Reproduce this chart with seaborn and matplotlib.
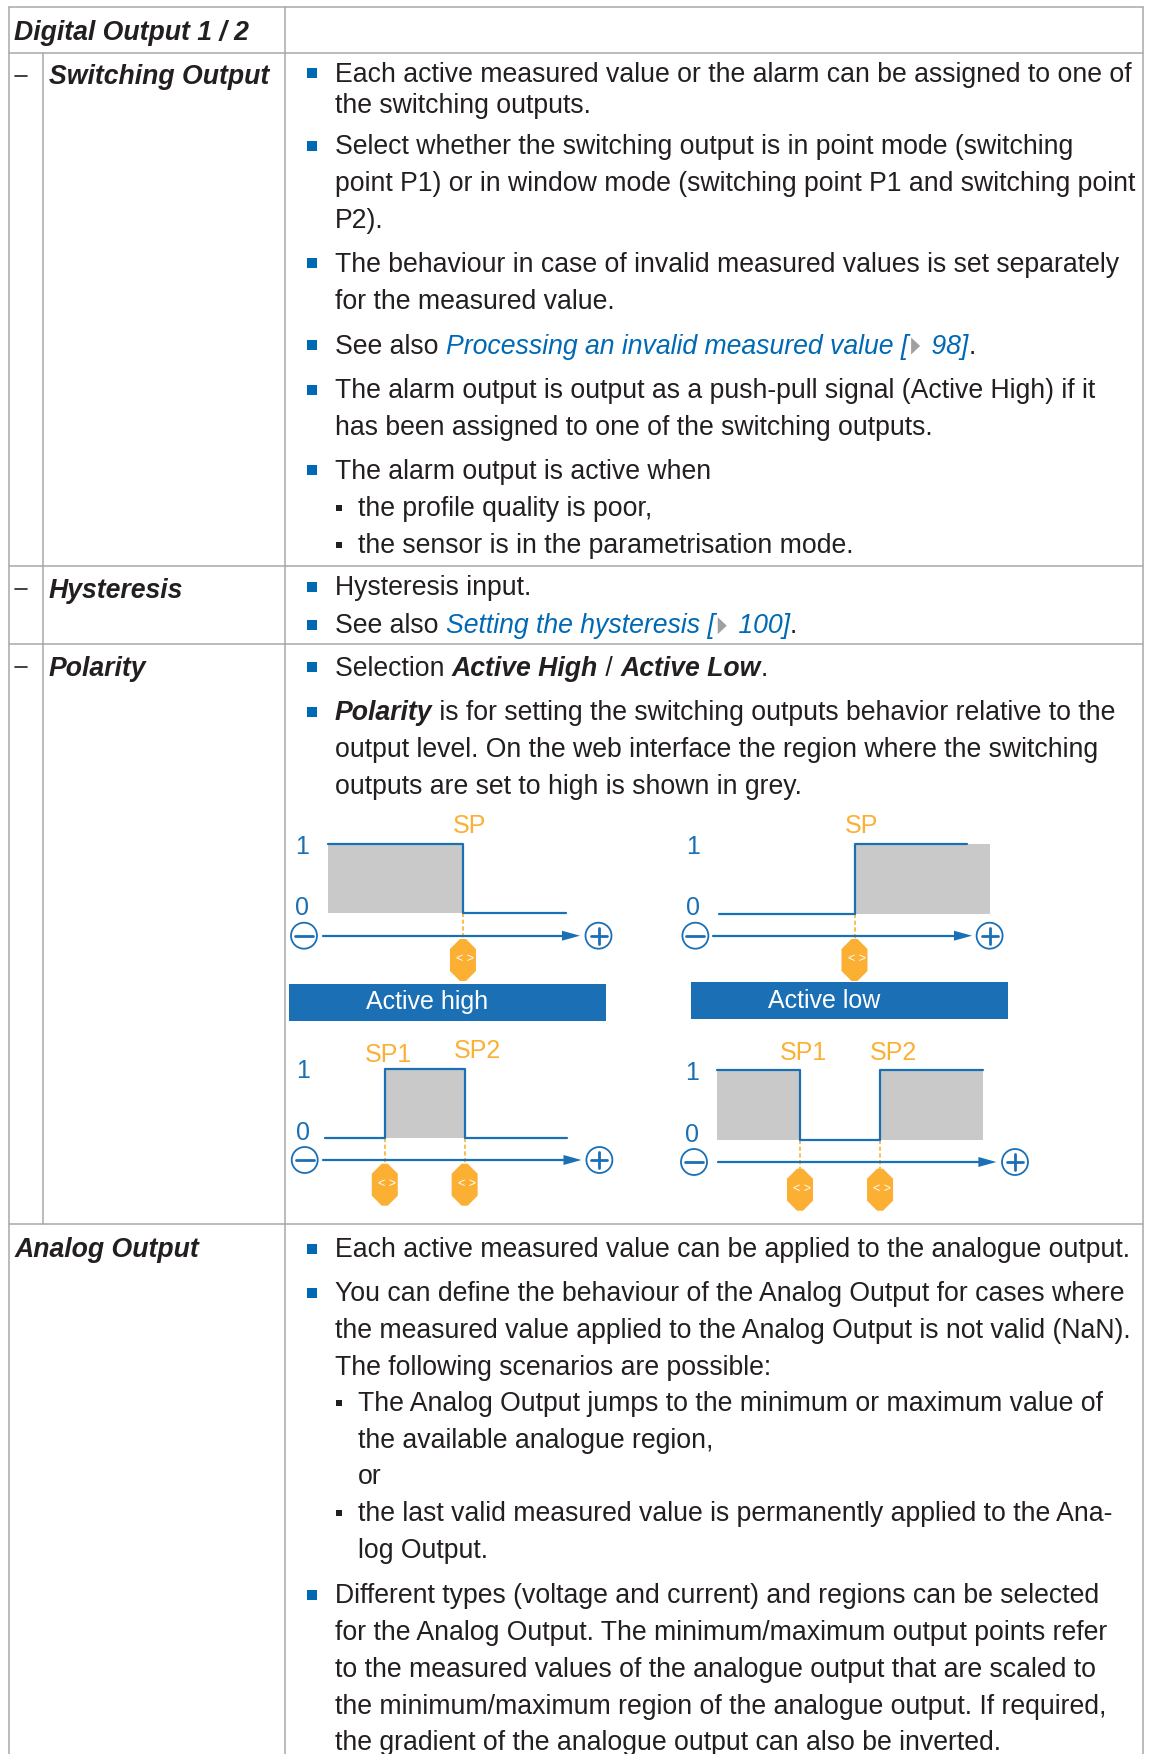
import matplotlib
matplotlib.use('Agg')
import matplotlib.pyplot as plt
from matplotlib.patches import Circle, Polygon, Rectangle
import seaborn as sns

sns.set_theme(style='white')
plt.rcParams['font.family'] = ['Liberation Sans', 'DejaVu Sans']

TXT = '#231f20'
LINK = '#0069b4'
BLUE = '#1a6fb5'
ORANGE = '#fbb034'
GREY = '#c9c9c9'
RULE = '#a8a8a8'
FS = 19.2

# row labels
row_labels = ['Digital Output 1 / 2', 'Switching Output', 'Hysteresis', 'Polarity', 'Analog Output']
row_label_x = [14.5, 49, 49, 49, 14.5]
row_label_y = [39.5, 84.5, 598, 675.5, 1257]
dash_y = [76, 589, 667]

# body text, one entry per printed line: (kind, runs)
# kind: b = first line of a bullet, c = continuation, s = sub bullet, t = sub continuation
switching_lines = [
    ('b', [('Each active measured value or the alarm can be assigned to one of', 'r')]),
    ('c', [('the switching outputs.', 'r')]),
    ('b', [('Select whether the switching output is in point mode (switching', 'r')]),
    ('c', [('point P1) or in window mode (switching point P1 and switching point', 'r')]),
    ('c', [('P2).', 'r')]),
    ('b', [('The behaviour in case of invalid measured values is set separately', 'r')]),
    ('c', [('for the measured value.', 'r')]),
    ('b', [('See also ', 'r'), ('Processing an invalid measured value [', 'l'), ('', 'tri'), (' 98]', 'l'), ('.', 'r')]),
    ('b', [('The alarm output is output as a push-pull signal (Active High) if it', 'r')]),
    ('c', [('has been assigned to one of the switching outputs.', 'r')]),
    ('b', [('The alarm output is active when', 'r')]),
    ('s', [('the profile quality is poor,', 'r')]),
    ('s', [('the sensor is in the parametrisation mode.', 'r')]),
    ('b', [('Hysteresis input.', 'r')]),
    ('b', [('See also ', 'r'), ('Setting the hysteresis [', 'l'), ('', 'tri'), (' 100]', 'l'), ('.', 'r')]),
    ('b', [('Selection ', 'r'), ('Active High', 'bi'), (' / ', 'r'), ('Active Low', 'bi'), ('.', 'r')]),
    ('b', [('Polarity', 'bi'), (' is for setting the switching outputs behavior relative to the', 'r')]),
    ('c', [('output level. On the web interface the region where the switching', 'r')]),
    ('c', [('outputs are set to high is shown in grey.', 'r')]),
]
switching_y = [81.7, 113, 154.4, 191.3, 228.2, 271.9, 308.8, 353.5, 398.3, 435.2, 478.8,
               515.7, 552.6, 595.1, 633.2, 675.7, 720.4, 757.3, 794.3]

analog_lines = [
    ('b', [('Each active measured value can be applied to the analogue output.', 'r')]),
    ('b', [('You can define the behaviour of the Analog Output for cases where', 'r')]),
    ('c', [('the measured value applied to the Analog Output is not valid (NaN).', 'r')]),
    ('c', [('The following scenarios are possible:', 'r')]),
    ('s', [('The Analog Output jumps to the minimum or maximum value of', 'r')]),
    ('t', [('the available analogue region,', 'r')]),
    ('t', [('or', 'r')]),
    ('s', [('the last valid measured value is permanently applied to the Ana-', 'r')]),
    ('t', [('log Output.', 'r')]),
    ('b', [('Different types (voltage and current) and regions can be selected', 'r')]),
    ('c', [('for the Analog Output. The minimum/maximum output points refer', 'r')]),
    ('c', [('to the measured values of the analogue output that are scaled to', 'r')]),
    ('c', [('the minimum/maximum region of the analogue output. If required,', 'r')]),
    ('c', [('the gradient of the analogue output can also be inverted.', 'r')]),
]
analog_y = [1257.4, 1301, 1337.9, 1374.8, 1410.6, 1447.5, 1484.4, 1521.3, 1558.3,
            1603, 1639.9, 1676.8, 1713.8, 1749.5]

# switching diagrams: signal level over position (0-100 % of the diagram width)
high_x, high_y = [0, 56.7, 100], [1, 0, 0]
low_x, low_y = [0, 50, 91.5], [0, 1, 1]
window_high_x, window_high_y = [0, 24.7, 57.7, 100], [0, 1, 0, 0]
window_low_x, window_low_y = [0, 31.2, 61.3, 100], [1, 0, 1, 1]

high_grey = [(0, 56.7)]
low_grey = [(50, 100)]
window_high_grey = [(24.7, 57.7)]
window_low_grey = [(0, 31.2), (61.3, 100)]

high_sp = [56.7]
low_sp = [50]
window_high_sp = [24.7, 57.7]
window_low_sp = [31.2, 61.3]

fig = plt.figure(figsize=(11.54, 17.54), dpi=100)
page = fig.add_axes([0, 0, 1, 1])
page.set_xlim(0, 1154)
page.set_ylim(1754, 0)
page.axis('off')
renderer = fig.canvas.get_renderer()


def text_width(s, **kw):
    probe = page.text(0, 0, s + '|', fontsize=FS, style=kw.get('style', 'normal'), weight=kw.get('weight', 'normal'))
    bar = page.text(0, 0, '|', fontsize=FS, style=kw.get('style', 'normal'), weight=kw.get('weight', 'normal'))
    w = probe.get_window_extent(renderer).width - bar.get_window_extent(renderer).width
    probe.remove()
    bar.remove()
    return w


def draw_runs(x, y, runs):
    for s, kind in runs:
        if kind == 'tri':
            page.add_patch(Polygon([(x + 3, y - 16), (x + 12, y - 7.5), (x + 3, y + 1)], color='#a0a0a0', lw=0))
            x += 16
            continue
        kw = {}
        color = TXT
        if kind == 'bi':
            kw = {'style': 'italic', 'weight': 'bold'}
        elif kind == 'l':
            kw = {'style': 'italic'}
            color = LINK
        page.text(x, y, s, fontsize=FS, color=color, va='baseline', **kw)
        x += text_width(s, **kw)


def draw_lines(lines, ys):
    for (kind, runs), y in zip(lines, ys):
        if kind == 'b':
            page.add_patch(Rectangle((307, y - 13.5), 10, 10, color='#0069b4', lw=0))
        if kind == 's':
            page.add_patch(Rectangle((336, y - 11), 6, 6, color=TXT, lw=0))
        x = 335 if kind in 'bc' else 358
        draw_runs(x, y, runs)


def chip(cx, top):
    # orange sliding marker under a switching point
    w, h = 13, 42
    pts = [(cx - 3, top), (cx + 3, top), (cx + w, top + 10), (cx + w, top + h - 10), (cx + 3, top + h),
           (cx - 3, top + h), (cx - w, top + h - 10), (cx - w, top + 10)]
    page.add_patch(Polygon(pts, color=ORANGE, lw=0, zorder=3))
    page.text(cx + 2, top + h / 2 - 1, '< >', color='white', fontsize=9, ha='center', va='center', zorder=4)


def diagram(left, right, y_one, y_zero, xs, ys, grey, sps, axis_y, axis_from, tip,
            minus_x, plus_x, digit_x, one_y, zero_y, chip_top, sp_texts):
    ax = fig.add_axes([left / 1154, 1 - y_zero / 1754, (right - left) / 1154, (y_zero - y_one) / 1754])
    ax.set_xlim(0, 100)
    ax.set_ylim(0, 1)
    ax.axis('off')
    ax.patch.set_alpha(0)
    for a, b in grey:
        ax.axvspan(a, b, color=GREY, lw=0)
    sns.lineplot(x=xs, y=ys, ax=ax, drawstyle='steps-post', estimator=None, sort=False,
                 color=BLUE, linewidth=1.6, clip_on=False, legend=False)
    ax.set_xlabel('')
    ax.set_ylabel('')
    for sp in sps:
        cx = left + sp / 100 * (right - left)
        page.plot([cx, cx], [y_zero, chip_top], color=ORANGE, lw=1.2, ls=(0, (2.5, 1.5)), zorder=2)
        chip(cx, chip_top)
    page.plot([axis_from, tip - 16], [axis_y, axis_y], color=BLUE, lw=1.6, zorder=2.5)
    page.add_patch(Polygon([(tip, axis_y), (tip - 18, axis_y - 5), (tip - 18, axis_y + 5)], color=BLUE, lw=0))
    page.add_patch(Circle((minus_x, axis_y), 13, fill=False, ec=BLUE, lw=1.3))
    page.plot([minus_x - 9, minus_x + 9], [axis_y, axis_y], color=BLUE, lw=2)
    page.add_patch(Circle((plus_x, axis_y), 13, fill=False, ec=BLUE, lw=1.3))
    page.plot([plus_x - 8, plus_x + 8], [axis_y, axis_y], color=BLUE, lw=2)
    page.plot([plus_x, plus_x], [axis_y - 8, axis_y + 8], color=BLUE, lw=2)
    page.text(digit_x, one_y, '1', color=BLUE, fontsize=18, ha='center', va='center')
    page.text(digit_x, zero_y, '0', color=BLUE, fontsize=18, ha='center', va='center')
    for s, tx, ty in sp_texts:
        page.text(tx, ty, s, color=ORANGE, fontsize=18, ha='center', va='center')


# table rules
for y in [7, 53, 566, 644, 1224]:
    page.plot([9, 1143], [y, y], color=RULE, lw=1.1)
for x in [9, 285, 1143]:
    page.plot([x, x], [7, 1754], color=RULE, lw=1.1)
page.plot([43, 43], [53, 1224], color=RULE, lw=1.1)

for s, x, y in zip(row_labels, row_label_x, row_label_y):
    page.text(x, y, s, fontsize=FS, style='italic', weight='bold', color=TXT, va='baseline')
for y in dash_y:
    page.plot([15, 27], [y, y], color=TXT, lw=1.2)

draw_lines(switching_lines, switching_y)
draw_lines(analog_lines, analog_y)

diagram(328, 566, 843.7, 913, high_x, high_y, high_grey, high_sp, 935.7, 323, 580, 304, 598.5,
        302, 847, 908, 939, [('SP', 469, 826)])
diagram(719, 990, 844, 913.7, low_x, low_y, low_grey, low_sp, 935.7, 713, 972, 695.4, 989.6,
        693, 847, 908, 939, [('SP', 861, 826)])
diagram(325, 567, 1068.7, 1138, window_high_x, window_high_y, window_high_grey, window_high_sp,
        1160, 323, 581.5, 304.7, 599.4, 303, 1071, 1133, 1163.7, [('SP1', 388.5, 1054.5), ('SP2', 477, 1050.5)])
diagram(717, 983, 1070, 1140, window_low_x, window_low_y, window_low_grey, window_low_sp,
        1162, 717.7, 996.4, 694, 1015, 692, 1073, 1135, 1168.7, [('SP1', 803.5, 1053), ('SP2', 893.5, 1053)])

# mode banners
page.add_patch(Rectangle((289, 984), 317, 36.7, color=BLUE, lw=0))
page.text(427, 1002.5, 'Active high', color='white', fontsize=18, ha='center', va='center')
page.add_patch(Rectangle((691, 982), 317, 37, color=BLUE, lw=0))
page.text(824, 1000.5, 'Active low', color='white', fontsize=18, ha='center', va='center')

fig.savefig('out.png', dpi=100)
